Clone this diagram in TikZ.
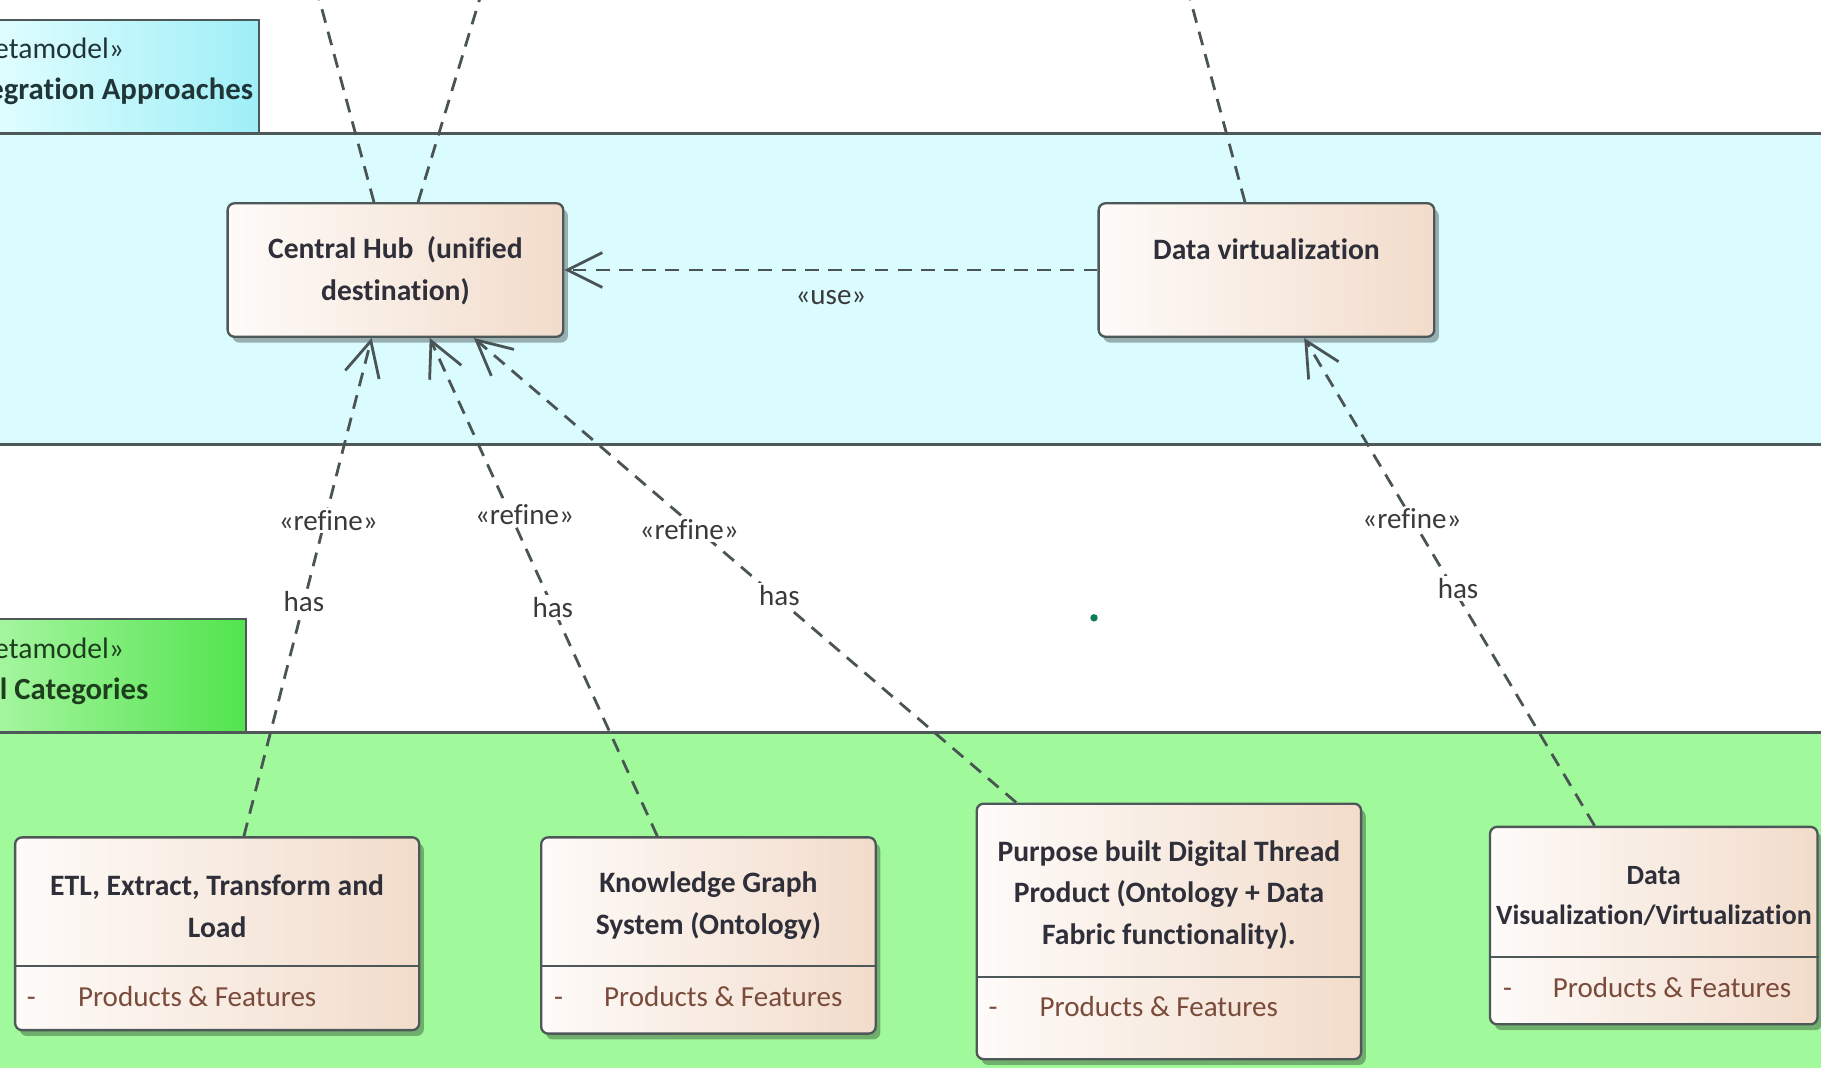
\documentclass[tikz,border=0pt]{standalone}
\usepackage{fontspec}
\setmainfont{Carlito}[Ligatures=NoCommon]
\usetikzlibrary{arrows.meta,shadows,calc}
\definecolor{bandcyan}{HTML}{DAFCFF}
\definecolor{tabcyanL}{HTML}{E2FEFF}
\definecolor{tabcyanR}{HTML}{9FEFF7}
\definecolor{bandgreen}{HTML}{A0FA9C}
\definecolor{tabgreenL}{HTML}{A8F6A2}
\definecolor{tabgreenR}{HTML}{52E44E}
\definecolor{bordc}{HTML}{4E5858}
\definecolor{boxL}{HTML}{FEFBF9}
\definecolor{boxR}{HTML}{F2DCCB}
\definecolor{ttlc}{HTML}{2F2F3A}
\definecolor{prodc}{HTML}{7A4A3A}
\definecolor{lblc}{HTML}{3A3A3A}
\definecolor{linec}{HTML}{4A5454}
\definecolor{dotc}{HTML}{0E7A5A}
\definecolor{tabcyantxt}{HTML}{1F3538}
\definecolor{tabgreentxt}{HTML}{1E3F1E}
\begin{document}
\begin{tikzpicture}[x=1pt,y=-1pt,
  box/.style={draw=bordc, line width=2pt, rounded corners=6pt, left color=boxL, right color=boxR,
    drop shadow={shadow xshift=4pt, shadow yshift=-5pt, opacity=0.3, fill=black}},
  ttl/.style={font=\fontsize{25.5}{36}\selectfont\bfseries, text=ttlc, align=center, inner sep=0pt},
  prod/.style={font=\fontsize{25}{30}\selectfont, text=prodc, inner sep=0pt, anchor=base west},
  dashc/.style={draw=linec, line width=2.4pt, dash pattern=on 12pt off 8pt},
  arr/.style={dashc, -{Straight Barb[length=30pt,width=30pt]}},
  lbl/.style={font=\fontsize{25}{30}\selectfont, text=lblc, fill=white, inner sep=2pt},
  divl/.style={draw=bordc, line width=2pt},
  bandl/.style={draw=bordc, line width=2.5pt},
  tabreg/.style={font=\fontsize{25.5}{30}\selectfont, inner sep=0pt, anchor=east},
  tabbold/.style={font=\fontsize{26.5}{30}\selectfont\bfseries, inner sep=0pt, anchor=east}]
\useasboundingbox (0,0) rectangle (1568,919);
\begin{scope}
\clip (0,0) rectangle (1568,919);
\fill[white] (0,0) rectangle (1568,919);
% integration approaches package
\fill[bandcyan] (-10,115) rectangle (1580,383);
\path[draw=bordc, line width=2pt, left color=tabcyanL, right color=tabcyanR] (-10,17) rectangle (223,115);
\draw[bandl] (-10,115) -- (1580,115);
\draw[bandl] (-10,383) -- (1580,383);
\node[tabreg, text=tabcyantxt] (pkgAst) at (107,42) {«metamodel»};
\node[tabbold, text=tabcyantxt] (pkgAname) at (218,79) {Integration Approaches};
% tool categories package
\fill[bandgreen] (-10,631) rectangle (1580,930);
\path[draw=bordc, line width=2pt, left color=tabgreenL, right color=tabgreenR] (-10,533) rectangle (212,631);
\draw[bandl] (-10,631) -- (1580,631);
\node[tabreg, text=tabgreentxt] (pkgBst) at (107,558) {«metamodel»};
\node[tabbold, text=tabgreentxt] (pkgBname) at (128,595) {Tool Categories};
% dot
\fill[dotc] (942,532) circle (3.2);
% boxes
\node[box, minimum width=289pt, minimum height=115pt] (hub) at (340.5,232.5) {};
\node[ttl] (hubT) at (340.5,233) {Central Hub\ \ (unified\\destination)};
\node[box, minimum width=289pt, minimum height=115pt] (dv) at (1090.5,232.5) {};
\node[ttl] (dvT) at (1090.5,215) {Data virtualization};

\node[box, minimum width=348pt, minimum height=166pt] (etl) at (187,804) {};
\node[ttl] (etlT) at (187,780) {ETL, Extract, Transform and\\Load};
\draw[divl] (etl.west |- 0,832) -- (etl.east |- 0,832);
\node[prod] (etlD) at (23,867) {-};
\node[prod] (etlP) at (67,867) {Products \& Features};

\node[box, minimum width=288pt, minimum height=169pt] (kg) at (610,805.5) {};
\node[ttl] (kgT) at (610,780) {Knowledge Graph\\System (Ontology)};
\draw[divl] (kg.west |- 0,832) -- (kg.east |- 0,832);
\node[prod] (kgD) at (477,867) {-};
\node[prod] (kgP) at (520,867) {Products \& Features};

\node[box, minimum width=331pt, minimum height=220pt] (pb) at (1006.5,802) {};
\node[ttl] (pbT) at (1006.5,770.5) {Purpose built Digital Thread\\Product (Ontology + Data\\Fabric functionality).};
\draw[divl] (pb.west |- 0,841) -- (pb.east |- 0,841);
\node[prod] (pbD) at (851,875) {-};
\node[prod] (pbP) at (895,875) {Products \& Features};

\node[box, minimum width=282pt, minimum height=170pt] (dvis) at (1424,797) {};
\node[ttl, font=\fontsize{24}{35}\selectfont\bfseries] (dvisT) at (1424,771.5) {Data\\Visualization/Virtualization};
\draw[divl] (dvis.west |- 0,824) -- (dvis.east |- 0,824);
\node[prod] (dvisD) at (1294,859) {-};
\node[prod] (dvisP) at (1337,859) {Products \& Features};

% connectors
\draw[arr] ([xshift=23pt]etl.north) -- node[lbl,pos=0.633,xshift=3pt]{«refine»} node[lbl,pos=0.47]{has} ([xshift=-20.5pt]hub.south);
\draw[arr] ([xshift=-44pt]kg.north) -- node[lbl,pos=0.645,xshift=12pt]{«refine»} node[lbl,pos=0.459]{has} ([xshift=29.5pt]hub.south);
\draw[arr] ([xshift=-131.5pt]pb.north) -- node[lbl,pos=0.588,xshift=-7pt]{«refine»} node[lbl,pos=0.445,xshift=4pt]{has} ([xshift=67.5pt]hub.south);
\draw[arr] ([xshift=-51pt]dvis.north) -- node[lbl,pos=0.629]{«refine»} node[lbl,pos=0.486,xshift=4pt]{has} ([xshift=32.5pt]dv.south);
\draw[arr] (dv.west) -- node[lbl, fill=none, pos=0.5, yshift=-24pt]{«use»} (hub.east);
% lines leaving the picture at the top
\coordinate (t1) at (274,-4);
\coordinate (t2) at (414,-4);
\coordinate (t3) at (1024,-4);
\draw[dashc] ([xshift=-18.5pt]hub.north) -- (t1);
\draw[dashc] ([xshift=19.5pt]hub.north) -- (t2);
\draw[dashc] ([xshift=-18.5pt]dv.north) -- (t3);
\end{scope}
\end{tikzpicture}
\end{document}
